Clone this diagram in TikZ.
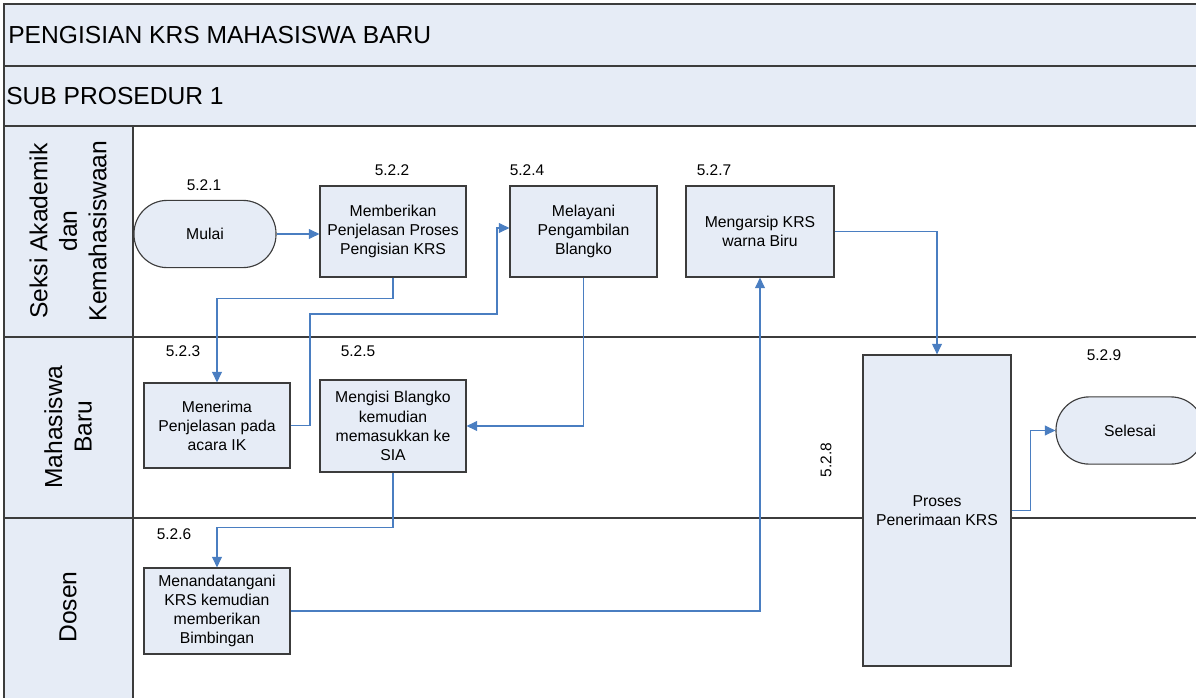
\documentclass[tikz,border=0pt]{standalone}
\usepackage{fontspec}
\setmainfont{Liberation Sans}
\usetikzlibrary{arrows.meta,positioning}
\definecolor{laneblue}{RGB}{230,236,246}
\definecolor{flowblue}{RGB}{74,126,193}
\definecolor{framegray}{RGB}{60,60,60}
\tikzset{every picture/.style={x=0.025cm,y=-0.025cm},
proc/.style={draw=framegray,line width=0.8pt,fill=laneblue,inner sep=0pt,align=center,font=\fontsize{11.2}{13.6}\selectfont},
term/.style={proc,rounded corners=0.83cm,minimum width=3.55cm,minimum height=1.68cm},
num/.style={font=\fontsize{11}{13}\selectfont,inner sep=0pt},
lanetext/.style={rotate=90,align=center,font=\fontsize{17.5}{21}\selectfont},
headtext/.style={anchor=west,inner sep=0pt,font=\fontsize{17.5}{21}\selectfont},
flow/.style={draw=flowblue,line width=0.75pt,-{Triangle[length=7.5pt,width=7pt]}},
lane/.style={draw=framegray,line width=1pt}
}

\begin{document}
\begin{tikzpicture}
            \useasboundingbox (0,0) rectangle (1196,697);
            \path[lane,fill=laneblue] (4,4) rectangle (1210,66);
            \path[lane,fill=laneblue] (4,66) rectangle (1210,126);
            \path[lane,fill=laneblue] (4,126) rectangle (133,710);
            \draw[lane] (4,126) -- (4,710);
            \draw[lane] (4,337) -- (1210,337);
            \draw[lane] (4,518) -- (1210,518);
            \node[headtext] (judul) at (8,35) {PENGISIAN KRS MAHASISWA BARU};
            \node[headtext] (sub) at (6,96) {SUB PROSEDUR 1};
            \node[lanetext] (seksi) at (68,231) {Seksi Akademik\\dan\\Kemahasiswaan};
            \node[lanetext] (mhs) at (68,427) {Mahasiswa\\Baru};
            \node[lanetext] (dosen) at (68,607) {Dosen};
            \node[term] (mulai) at (205,234) {Mulai};
            \node[proc,minimum width=3.65cm,minimum height=2.275cm] (p522) at (393,231.5) {Memberikan\\Penjelasan Proses\\Pengisian KRS};
            \node[proc,minimum width=3.675cm,minimum height=2.275cm] (p524) at (583.5,231.5) {Melayani\\Pengambilan\\Blangko};
            \node[proc,minimum width=3.7cm,minimum height=2.275cm] (p527) at (760,231.5) {Mengarsip KRS\\warna Biru};
            \node[proc,minimum width=3.65cm,minimum height=2.125cm] (p523) at (217,425.5) {Menerima\\Penjelasan pada\\acara IK};
            \node[proc,minimum width=3.65cm,minimum height=2.3cm] (p525) at (393,426) {Mengisi Blangko\\kemudian\\memasukkan ke\\SIA};
            \node[proc,minimum width=3.65cm,minimum height=2.15cm] (p526) at (217,611) {Menandatangani\\KRS kemudian\\memberikan\\Bimbingan};
            \node[proc,minimum width=3.7cm,minimum height=7.775cm] (p528) at (937,510.5) {Proses\\Penerimaan KRS};
            \node[term,minimum width=3.7cm] (selesai) at (1130,430.5) {Selesai};
            \node[num] (n521) at (204,185) {5.2.1};
            \node[num] (n522) at (392,170) {5.2.2};
            \node[num] (n524) at (527,170) {5.2.4};
            \node[num] (n527) at (714,170) {5.2.7};
            \node[num] (n523) at (183,351) {5.2.3};
            \node[num] (n525) at (358,351) {5.2.5};
            \node[num] (n526) at (174,534) {5.2.6};
            \node[num,rotate=90] (n528) at (826,460) {5.2.8};
            \node[num] (n529) at (1104,355) {5.2.9};
            \coordinate (k1) at (310,314);
            \coordinate (k2) at (497,228);
            \draw[flow] (mulai.east) -- (mulai.east -| p522.west);
            \draw[flow] (p522.south) -- ++(0,21) -| (p523.north);
            \draw[flow] (p523.east) -| (k1) -| (k2) -- (k2 -| p524.west);
            \draw[flow] (p524.south) |- (p525.east);
            \draw[flow] (p525.south) -- ++(0,55) -| (p526.north);
            \draw[flow] (p526.east) -| (p527.south);
            \draw[flow] (p527.east) -| (p528.north);
            \draw[flow] (p528.east) -- ++(19,0) |- (selesai.west);
        \end{tikzpicture}
\end{document}
